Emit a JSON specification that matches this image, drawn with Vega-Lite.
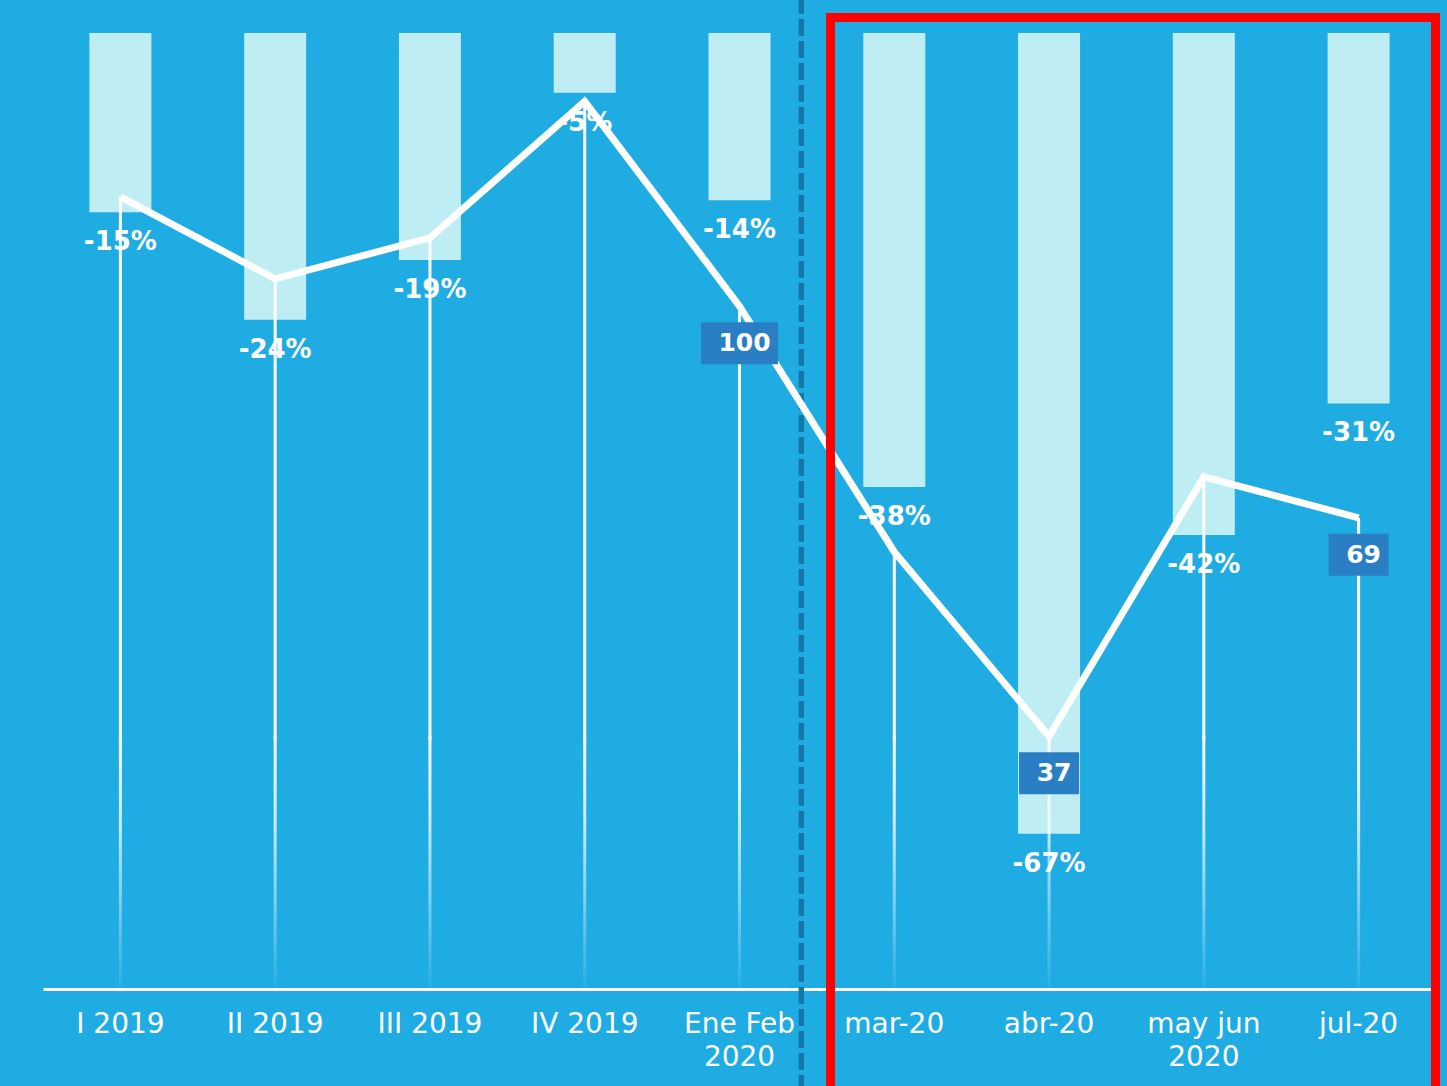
{
  "$schema": "https://vega.github.io/schema/vega-lite/v6.json",
  "width": 1393,
  "height": 956,
  "autosize": {"type": "none"},
  "padding": {"left": 43, "top": 33, "right": 11, "bottom": 97},
  "background": "#1FACE2",
  "config": {
    "view": {"stroke": null},
    "axisX": {
      "domainColor": "white",
      "domainWidth": 3,
      "ticks": false,
      "grid": false,
      "labelColor": "white",
      "labelFont": "DejaVu Sans",
      "labelFontSize": 28,
      "labelPadding": 21,
      "labelLineHeight": 33,
      "labelAngle": 0,
      "labelOverlap": false,
      "labelLimit": 400,
      "labelExpr": "datum.label == 'Ene Feb 2020' ? ['Ene Feb', '2020'] : datum.label == 'may jun 2020' ? ['may jun', '2020'] : datum.label"
    }
  },
  "datasets": {
    "main": [
      {"cat": "I 2019", "pct": -15, "idx": 116},
      {"cat": "II 2019", "pct": -24, "idx": 104},
      {"cat": "III 2019", "pct": -19, "idx": 110},
      {"cat": "IV 2019", "pct": -5, "idx": 130},
      {"cat": "Ene Feb 2020", "pct": -14, "idx": 100},
      {"cat": "mar-20", "pct": -38, "idx": 64},
      {"cat": "abr-20", "pct": -67, "idx": 37},
      {"cat": "may jun 2020", "pct": -42, "idx": 75},
      {"cat": "jul-20", "pct": -31, "idx": 69}
    ]
  },
  "data": {"name": "main"},
  "resolve": {"scale": {"y": "independent"}},
  "layer": [
    {
      "layer": [
        {
          "mark": {"type": "bar", "fill": "#BEEDF4", "width": 62},
          "encoding": {
            "x": {"field": "cat", "type": "nominal", "title": null, "sort": null,
                  "scale": {"domain": ["I 2019", "II 2019", "III 2019", "IV 2019", "Ene Feb 2020", "mar-20", "abr-20", "may jun 2020", "jul-20"], "paddingInner": 0.6, "paddingOuter": 0.3}},
            "y": {"field": "pct", "type": "quantitative", "axis": null, "scale": {"domain": [-80, 0], "nice": false, "zero": false}},
            "y2": {"datum": 0}
          }
        },
        {
          "mark": {"type": "rule", "stroke": "#1577A8", "strokeWidth": 5, "strokeDash": [16, 6], "xOffset": 31},
          "encoding": {
            "x": {"datum": "Ene Feb 2020", "type": "nominal", "bandPosition": 1, "title": null},
            "y": {"datum": 3, "type": "quantitative"},
            "y2": {"datum": -90}
          }
        },
        {
          "transform": [{"calculate": "toString(datum.pct) + '%'", "as": "lbl"}],
          "mark": {"type": "text", "color": "white", "font": "DejaVu Sans", "fontWeight": "bold", "fontSize": 26, "baseline": "middle", "align": "center", "dy": 30},
          "encoding": {
            "x": {"field": "cat", "type": "nominal", "title": null, "sort": null},
            "y": {"field": "pct", "type": "quantitative"},
            "text": {"field": "lbl", "type": "nominal"}
          }
        }
      ]
    },
    {
      "layer": [
        {
          "mark": {"type": "bar", "fill": "white", "width": 3},
          "encoding": {
            "x": {"field": "cat", "type": "nominal", "title": null, "sort": null},
            "y": {"field": "idx", "type": "quantitative", "axis": null, "scale": {"domain": [0, 140], "nice": false, "zero": false}},
            "y2": {"datum": 36.5}
          }
        },
        {
          "mark": {"type": "bar", "width": 3, "fill": {"gradient": "linear", "x1": 0, "y1": 0, "x2": 0, "y2": 1, "stops": [{"offset": 0, "color": "rgba(255,255,255,1)"}, {"offset": 0.35, "color": "rgba(255,255,255,0.75)"}, {"offset": 1, "color": "rgba(255,255,255,0.04)"}]}},
          "encoding": {
            "x": {"field": "cat", "type": "nominal", "title": null, "sort": null},
            "y": {"datum": 37, "type": "quantitative"},
            "y2": {"datum": 0}
          }
        },
        {
          "mark": {"type": "line", "stroke": "white", "strokeWidth": 7, "strokeJoin": "miter"},
          "encoding": {
            "x": {"field": "cat", "type": "nominal", "title": null, "sort": null},
            "y": {"field": "idx", "type": "quantitative"}
          }
        },
        {
          "transform": [{"filter": "datum.cat == 'Ene Feb 2020'"}],
          "mark": {"type": "bar", "fill": "#2A7FC4", "width": 77, "yOffset": 16, "y2Offset": 58},
          "encoding": {
            "x": {"field": "cat", "type": "nominal", "title": null, "sort": null},
            "y": {"field": "idx", "type": "quantitative"},
            "y2": {"field": "idx"}
          }
        },
        {
          "transform": [{"filter": "datum.cat == 'abr-20' || datum.cat == 'jul-20'"}],
          "mark": {"type": "bar", "fill": "#2A7FC4", "width": 60, "yOffset": 16, "y2Offset": 58},
          "encoding": {
            "x": {"field": "cat", "type": "nominal", "title": null, "sort": null},
            "y": {"field": "idx", "type": "quantitative"},
            "y2": {"field": "idx"}
          }
        },
        {
          "transform": [{"filter": "datum.cat == 'Ene Feb 2020' || datum.cat == 'abr-20' || datum.cat == 'jul-20'"}],
          "mark": {"type": "text", "color": "white", "font": "DejaVu Sans", "fontWeight": "bold", "fontSize": 25, "baseline": "middle", "align": "center", "dy": 37, "dx": 5},
          "encoding": {
            "x": {"field": "cat", "type": "nominal", "title": null, "sort": null},
            "y": {"field": "idx", "type": "quantitative"},
            "text": {"field": "idx", "type": "quantitative"}
          }
        }
      ]
    },
    {
      "mark": {"type": "rect", "fill": null, "stroke": "#FF0000", "strokeWidth": 8, "xOffset": -33, "x2Offset": 46},
      "encoding": {
        "x": {"datum": "mar-20", "type": "nominal", "bandPosition": 0, "title": null},
        "x2": {"datum": "jul-20", "bandPosition": 1},
        "y": {"datum": 1.3, "type": "quantitative", "axis": null, "scale": {"domain": [-80, 0], "nice": false, "zero": false}},
        "y2": {"datum": -90}
      }
    }
  ]
}
